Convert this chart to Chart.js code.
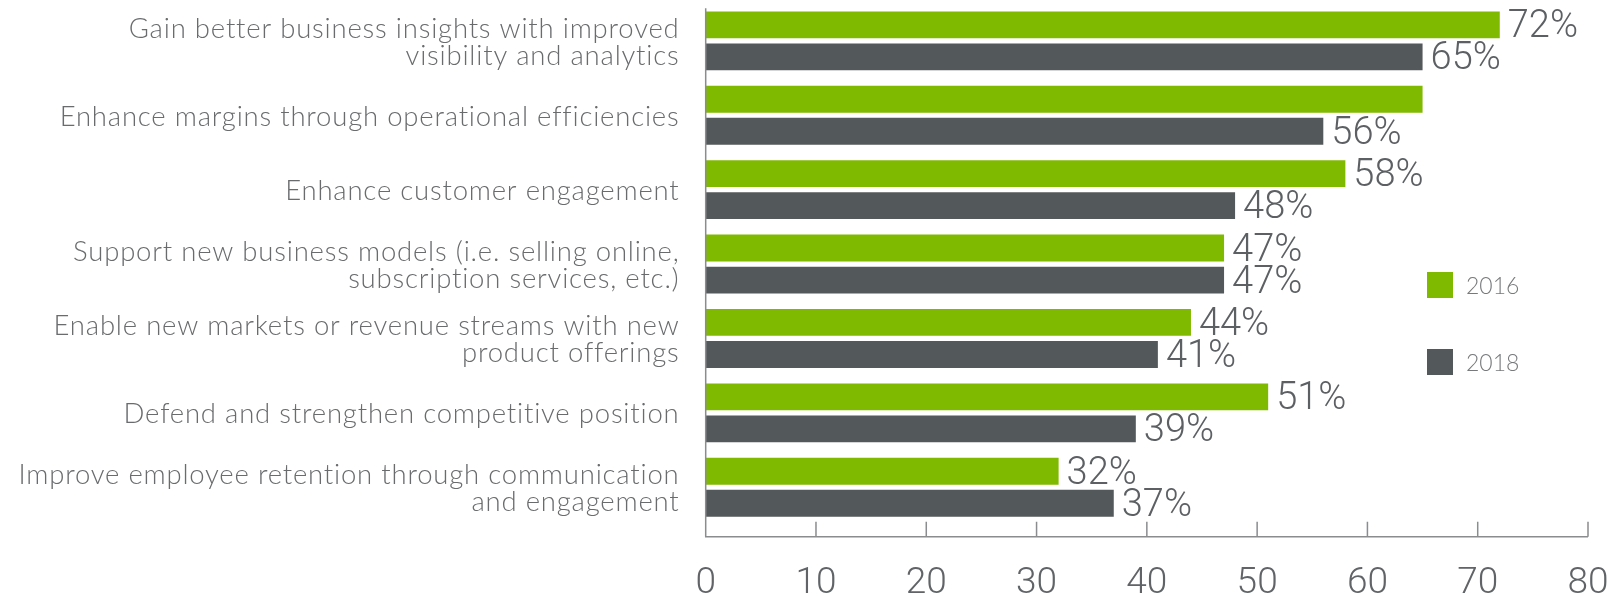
<!DOCTYPE html>
<html>
<head>
<meta charset="utf-8">
<script src="https://cdn.jsdelivr.net/npm/chart.js@4/dist/chart.umd.min.js"></script>
<style>
  html, body { margin: 0; padding: 0; background: #fff; }
  #wrap { position: relative; width: 1621px; height: 596px; }
  #legend { position: absolute; left: 1427px; top: 272px; font-family: Lato, sans-serif; font-weight: 300; }
  .item { position: relative; height: 26px; margin-bottom: 51px; }
  .item span.box { position: absolute; left: 0; top: 0; width: 26px; height: 26px; }
  .item span.txt { position: absolute; left: 39px; top: -1px; font-size: 23px; line-height: 28px; color: #77797b; }
</style>
</head>
<body>
<div id="wrap">
  <canvas id="chart" width="1621" height="596"></canvas>
  <div id="legend"></div>
</div>
<script>
(function () {
    'use strict';

    // categories (multi-line labels as arrays)
    var categories = [
        ['Gain better business insights with improved', 'visibility and analytics'],
        ['Enhance margins through operational efficiencies'],
        ['Enhance customer engagement'],
        ['Support new business models (i.e. selling online,', 'subscription services, etc.)'],
        ['Enable new markets or revenue streams with new', 'product offerings'],
        ['Defend and strengthen competitive position'],
        ['Improve employee retention through communication', 'and engagement']
    ];
    var seriesNames = ['2016', '2018'];
    var values2016 = [72, 65, 58, 47, 44, 51, 32];
    var values2018 = [65, 56, 48, 47, 41, 39, 37];
    // which bars carry a value label (the 2016 bar of row 2 has none)
    var labels2016 = ['72%', null, '58%', '47%', '44%', '51%', '32%'];
    var labels2018 = ['65%', '56%', '48%', '47%', '41%', '39%', '37%'];
    var xTicks = [0, 10, 20, 30, 40, 50, 60, 70, 80];

    var GREEN = '#80ba00';
    var GRAY = '#53585a';
    var NUM_FONT = "300 38px Roboto, 'Liberation Sans', sans-serif";
    var TICK_FONT = "300 37px Roboto, 'Liberation Sans', sans-serif";
    var CAT_FONT = "300 27.5px Lato, 'Open Sans', sans-serif";

    var valueLabels = {
        id: 'valueLabels',
        afterDatasetsDraw: function (chart) {
            var ctx = chart.ctx;
            var sets = [labels2016, labels2018];
            ctx.save();
            ctx.font = NUM_FONT;
            ctx.fillStyle = '#5c6063';
            ctx.textAlign = 'left';
            ctx.textBaseline = 'alphabetic';
            chart.data.datasets.forEach(function (ds, di) {
                var meta = chart.getDatasetMeta(di);
                meta.data.forEach(function (bar, i) {
                    var txt = sets[di][i];
                    if (!txt) return;
                    ctx.fillText(txt, bar.x + 8, bar.y + 12.5);
                });
            });
            ctx.restore();
        }
    };

    // category labels, right aligned against the plot
    var catLabels = {
        id: 'catLabels',
        afterDraw: function (chart) {
            var ctx = chart.ctx;
            var ys = chart.scales.y;
            var right = chart.chartArea.left - 27;
            var lh = 27;
            ctx.save();
            ctx.font = CAT_FONT;
            ctx.letterSpacing = '0.8px';
            ctx.fillStyle = '#696b6d';
            ctx.textAlign = 'right';
            ctx.textBaseline = 'middle';
            categories.forEach(function (lines, i) {
                var cy = ys.getPixelForTick(i) + 1.5;
                var y0 = cy - (lines.length - 1) * lh / 2;
                lines.forEach(function (line, k) {
                    ctx.fillText(line, right + 0.8, y0 + k * lh);
                });
            });
            ctx.restore();
        }
    };

    // axis lines with ticks pointing up into the plot, and tick numbers
    var axisLines = {
        id: 'axisLines',
        afterDraw: function (chart) {
            var ctx = chart.ctx;
            var a = chart.chartArea;
            var xs = chart.scales.x;
            var base = a.bottom + 12.2;
            ctx.save();
            ctx.strokeStyle = '#8a8c8e';
            ctx.lineWidth = 1.5;
            ctx.beginPath();
            ctx.moveTo(a.left, a.top + 4.6);
            ctx.lineTo(a.left, base);
            ctx.lineTo(xs.getPixelForValue(80), base);
            xTicks.forEach(function (v) {
                var px = xs.getPixelForValue(v);
                ctx.moveTo(px, base);
                ctx.lineTo(px, base - 15);
            });
            ctx.stroke();

            ctx.font = TICK_FONT;
            ctx.fillStyle = '#606467';
            ctx.textAlign = 'center';
            ctx.textBaseline = 'alphabetic';
            xTicks.forEach(function (v) {
                ctx.fillText(String(v), xs.getPixelForValue(v), base + 56);
            });
            ctx.restore();
        }
    };

    var ctx = document.getElementById('chart').getContext('2d');
    new Chart(ctx, {
        type: 'bar',
        data: {
            labels: categories,
            datasets: [
                { label: seriesNames[0], data: values2016, backgroundColor: GREEN,
                  categoryPercentage: 0.861, barPercentage: 0.839 },
                { label: seriesNames[1], data: values2018, backgroundColor: GRAY,
                  categoryPercentage: 0.861, barPercentage: 0.839 }
            ]
        },
        options: {
            indexAxis: 'y',
            responsive: false,
            animation: false,
            layout: { padding: { top: 3.65, left: 0, right: 33, bottom: 0 } },
            plugins: {
                legend: { display: false },
                tooltip: { enabled: false }
            },
            scales: {
                x: {
                    min: 0,
                    max: 80,
                    grid: { display: false, drawTicks: false },
                    border: { display: false },
                    ticks: { display: false, stepSize: 10 },
                    afterFit: function (scale) { scale.height = 71.55; }
                },
                y: {
                    grid: { display: false, drawTicks: false },
                    border: { display: false },
                    ticks: { display: false },
                    afterFit: function (scale) { scale.width = 705.7; }
                }
            }
        },
        plugins: [valueLabels, catLabels, axisLines]
    });

    // legend on the right
    var leg = document.getElementById('legend');
    [[seriesNames[0], GREEN], [seriesNames[1], GRAY]].forEach(function (it) {
        var d = document.createElement('div');
        d.className = 'item';
        d.innerHTML = '<span class="box" style="background:' + it[1] + '"></span><span class="txt">' + it[0] + '</span>';
        leg.appendChild(d);
    });
})();
</script>
</body>
</html>
